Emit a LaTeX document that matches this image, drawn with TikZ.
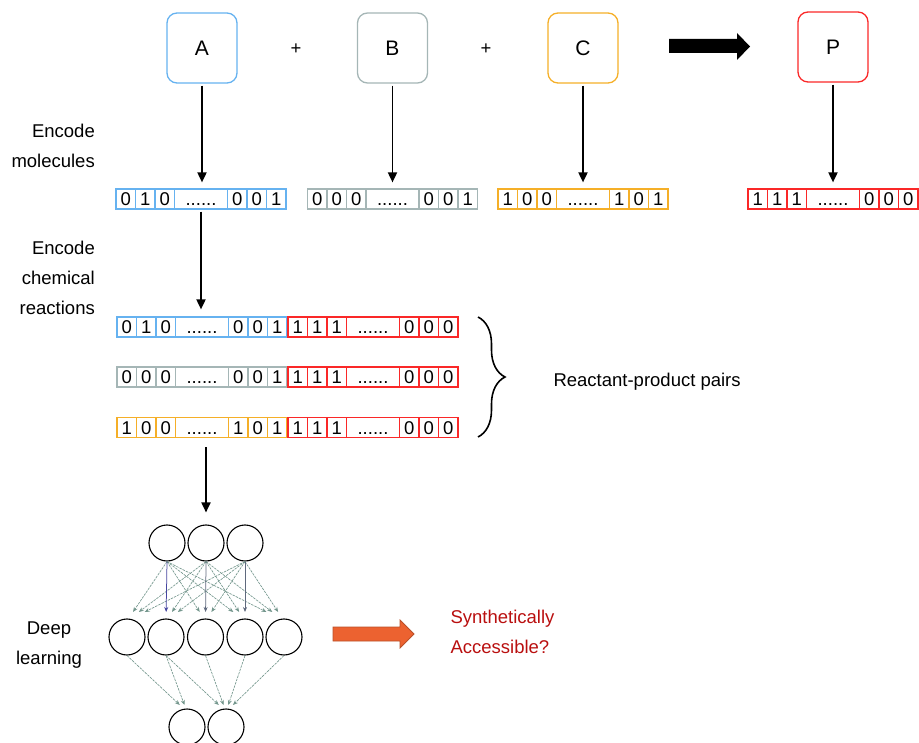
\documentclass[tikz,border=0pt]{standalone}
\usepackage{fontspec}
\setmainfont{Liberation Sans}
\usetikzlibrary{arrows.meta,calc,decorations.pathreplacing}
\definecolor{cblue}{RGB}{102,178,240}
\definecolor{cgrey}{RGB}{165,182,182}
\definecolor{corange}{RGB}{245,175,40}
\definecolor{cred}{RGB}{250,40,40}
\definecolor{nncol}{RGB}{115,150,140}
\definecolor{nnblue}{RGB}{70,70,160}
\definecolor{nndark}{RGB}{95,105,125}
\definecolor{orfill}{RGB}{236,98,48}
\definecolor{ordraw}{RGB}{185,80,40}
\definecolor{sacol}{RGB}{185,15,15}
\newcommand\mybits[9]{%
\begin{scope}[shift={#2}]
\node[bitcell,draw=#3] (#1a) at (9.75,0) {#4};
\node[bitcell,draw=#3] (#1b) at (29.25,0) {#5};
\node[bitcell,draw=#3] (#1c) at (48.75,0) {#6};
\node[bitcell,draw=#3,minimum width=53pt] (#1d) at (85,0) {......};
\node[bitcell,draw=#3] (#1e) at (121.25,0) {#7};
\node[bitcell,draw=#3] (#1f) at (140.75,0) {#8};
\node[bitcell,draw=#3] (#1g) at (160.25,0) {#9};
\end{scope}}
\begin{document}
\begin{tikzpicture}[x=1pt,y=-1pt,
  font=\fontsize{18.5}{22}\selectfont,
  molbox/.style={draw, rounded corners=10pt, line width=1.3pt, minimum width=70pt, minimum height=70pt, inner sep=0pt, font=\fontsize{21}{24}\selectfont},
  bitcell/.style={draw, line width=1.2pt, minimum height=20pt, minimum width=19.5pt, inner sep=0pt, text height=13.3pt, text depth=0pt},
  arr/.style={line width=1.8pt, -{Triangle[length=10pt,width=9pt]}},
  neuron/.style={draw, circle, line width=1.1pt, minimum size=36pt, inner sep=0pt},
  nnedge/.style={line width=0.65pt, draw=nncol, dash pattern=on 2.5pt off 1pt, -{Stealth[length=5pt,width=4pt]}},
  nnvert/.style={line width=0.75pt, -{Stealth[length=5pt,width=4pt]}},
  lbl/.style={align=right, anchor=east, inner sep=0pt, font=\fontsize{18.5}{30}\selectfont},
]
\useasboundingbox (0,0) rectangle (919,743);

% molecules
\node[molbox,draw=cblue] (A) at (202,48) {A};
\node[molbox,draw=cgrey] (B) at (392.5,48) {B};
\node[molbox,draw=corange] (C) at (583,48) {C};
\node[molbox,draw=cred] (P) at (833,47) {P};
\node (plus1) at (296,49) {+};
\node (plus2) at (486,49) {+};
\fill (669,39) -- (737,39) -- (737,33) -- (750,46.5) -- (737,60) -- (737,53) -- (669,53) -- cycle;

% fingerprints
\mybits{sa}{(116,199)}{cblue}{0}{1}{0}{0}{0}{1}
\mybits{sb}{(307.5,199)}{cgrey}{0}{0}{0}{0}{0}{1}
\mybits{sc}{(498,199)}{corange}{1}{0}{0}{1}{0}{1}
\mybits{sp}{(748,199)}{cred}{1}{1}{1}{0}{0}{0}

\draw[arr,shorten <=2pt,shorten >=6pt] (A) -- (A |- sad.north);
\draw[arr,shorten <=2pt,shorten >=6pt] (B) -- (B |- sbd.north);
\draw[arr,shorten <=2pt,shorten >=6pt] (C) -- (C |- scd.north);
\draw[arr,shorten <=2pt,shorten >=6pt] (P) -- (P |- spd.north);

% reaction pairs
\mybits{ra}{(117,327)}{cblue}{0}{1}{0}{0}{0}{1}
\mybits{rb}{(288,327)}{cred}{1}{1}{1}{0}{0}{0}
\mybits{qa}{(117,377)}{cgrey}{0}{0}{0}{0}{0}{1}
\mybits{qb}{(288,377)}{cred}{1}{1}{1}{0}{0}{0}
\mybits{ua}{(117,427.5)}{corange}{1}{0}{0}{1}{0}{1}
\mybits{ub}{(288,427.5)}{cred}{1}{1}{1}{0}{0}{0}

\draw[arr,shorten <=2pt,shorten >=7pt] (sad) -- (sad |- rad.north);

% brace
\coordinate (bt) at (478,317);
\coordinate (bb) at (478,437);
\draw[decorate, decoration={brace, amplitude=27pt}, line width=1.6pt] (bt) -- (bb);
\node[anchor=west] (rp) at (550,382) {Reactant-product pairs};

% labels
\node[lbl] (l1) at (95,146) {Encode\\molecules};
\node[lbl] (l2) at (95,278) {Encode\\chemical\\reactions};
\node[align=center, font=\fontsize{18.5}{30}\selectfont] (l3) at (49,645) {Deep\\learning};

% network
\node[neuron] (t1) at (167,543) {};
\node[neuron] (t2) at (206,543) {};
\node[neuron] (t3) at (245,543) {};
\node[neuron] (m1) at (127,637) {};
\node[neuron] (m2) at (166,637) {};
\node[neuron] (m3) at (205.5,637) {};
\node[neuron] (m4) at (245,637) {};
\node[neuron] (m5) at (284,637) {};
\node[neuron] (b1) at (187,727) {};
\node[neuron] (b2) at (226,727) {};

\draw[arr,shorten <=9pt,shorten >=12pt] (t2 |- uad.south) -- (t2);

\coordinate (mrow) at (0,612);
\coordinate (brow) at (0,705);
\foreach \i in {1,2,3}{
  \foreach \j in {1,...,5}{
    \coordinate (e\i\j) at ($(m\j)!0.15!(t\i)$);
  }
}
\foreach \i/\j in {1/1,1/3,1/4,1/5,2/1,2/2,2/4,2/5,3/1,3/2,3/3,3/5}{
  \draw[nnedge] (t\i.south) -- (e\i\j |- mrow);
}
\draw[nnvert,draw=nnblue] (t1.south) -- (e12 |- mrow);
\draw[nnvert,draw=nndark] (t2.south) -- (e23 |- mrow);
\draw[nnvert,draw=nndark] (t3.south) -- (e34 |- mrow);

\foreach \j/\k in {1/1,2/1,2/2,3/2,4/2,5/2}{
  \coordinate (f\j\k) at ($(b\k)!0.12!(m\j)$);
  \draw[nnedge] (m\j.south) -- (f\j\k |- brow);
}

% output
\filldraw[fill=orfill, draw=ordraw, line width=0.8pt] (333,627) -- (400,627) -- (400,620) -- (414,634) -- (400,648) -- (400,641) -- (333,641) -- cycle;
\node[anchor=west, align=left, text=sacol, font=\fontsize{18.5}{30}\selectfont] (synacc) at (447,632) {Synthetically\\Accessible?};
\end{tikzpicture}
\end{document}
